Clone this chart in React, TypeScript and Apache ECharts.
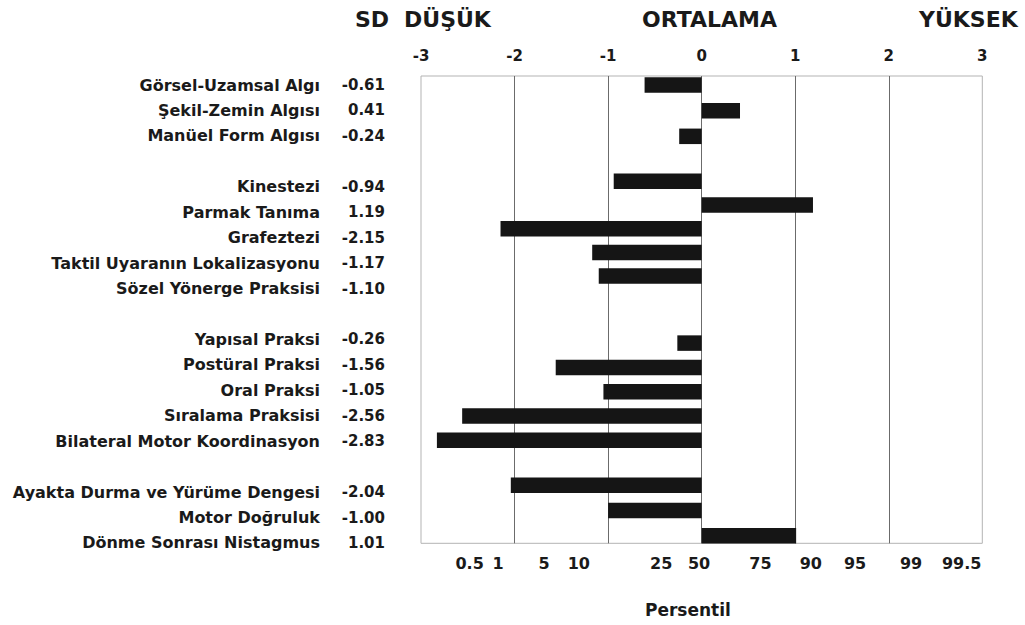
import React, { useEffect, useRef } from "react";
import * as echarts from "echarts";

const categories = [
  "Görsel-Uzamsal Algı",
  "Şekil-Zemin Algısı",
  "Manüel Form Algısı",
  "",
  "Kinestezi",
  "Parmak Tanıma",
  "Grafeztezi",
  "Taktil Uyaranın Lokalizasyonu",
  "Sözel Yönerge Praksisi",
  "",
  "Yapısal Praksi",
  "Postüral Praksi",
  "Oral Praksi",
  "Sıralama Praksisi",
  "Bilateral Motor Koordinasyon",
  "",
  "Ayakta Durma ve Yürüme Dengesi",
  "Motor Doğruluk",
  "Dönme Sonrası Nistagmus",
];

const sdValues: (number | null)[] = [
  -0.61, 0.41, -0.24, null, -0.94, 1.19, -2.15, -1.17, -1.1, null, -0.26,
  -1.56, -1.05, -2.56, -2.83, null, -2.04, -1.0, 1.01,
];

const sdTicks = [-3, -2, -1, 0, 1, 2, 3];
const innerLines = [-2, -1, 0, 1, 2];

const percentileLabels = ["0.5", "1", "5", "10", "25", "50", "75", "90", "95", "99", "99.5"];
const percentilePositions = [-2.48, -2.175, -1.685, -1.313, -0.433, -0.028, 0.628, 1.167, 1.64, 2.238, 2.78];

const FONT = "'DejaVu Sans'";
const INK = "#1a1a1a";

// group bars by blank separators (layout only)
function splitGroups() {
  const groups: { names: string[]; values: number[] }[] = [];
  let cur = { names: [] as string[], values: [] as number[] };
  categories.forEach((c, i) => {
    if (sdValues[i] == null) {
      if (cur.names.length) groups.push(cur);
      cur = { names: [], values: [] };
    } else {
      cur.names.push(c);
      cur.values.push(sdValues[i] as number);
    }
  });
  if (cur.names.length) groups.push(cur);
  return groups;
}

// vertical layout of each bar block: [top, row height]
const groupLayout = [
  [72.2, 25.65],
  [169.45, 23.7],
  [330.95, 24.3],
  [472.7, 25.25],
];

export default function App() {
  const ref = useRef<HTMLDivElement>(null);

  useEffect(() => {
    if (!ref.current) return;
    const chart = echarts.init(ref.current, null, { renderer: "svg" });
    const rowIdx = categories.map((_, i) => String(i));
    const groups = splitGroups();

    const plotLeft = 421;
    const plotWidth = 561.3;

    const grids: any[] = [
      {
        left: plotLeft,
        width: plotWidth,
        top: 76,
        height: 467.3,
        show: true,
        borderColor: "#b3b3b3",
        borderWidth: 1,
        backgroundColor: "transparent",
      },
      { left: 393, width: 10, top: 72.3, height: 483.4 },
    ];
    const xAxes: any[] = [
      {
        gridIndex: 0,
        type: "value",
        position: "top",
        min: sdTicks[0],
        max: sdTicks[sdTicks.length - 1],
        interval: 1,
        axisLine: { show: false },
        axisTick: { show: false },
        splitLine: { show: false },
        axisLabel: {
          margin: 13,
          fontFamily: FONT,
          fontWeight: "bold",
          fontSize: 15,
          color: INK,
        },
      },
      {
        gridIndex: 0,
        type: "value",
        position: "bottom",
        min: -3,
        max: 3,
        axisLine: { show: false },
        axisTick: { show: false },
        splitLine: { show: false },
        axisLabel: {
          customValues: percentilePositions,
          margin: 12,
          fontFamily: FONT,
          fontWeight: "bold",
          fontSize: 16,
          color: INK,
          formatter: (v: number) => {
            let best = 0;
            percentilePositions.forEach((p, i) => {
              if (Math.abs(p - v) < Math.abs(percentilePositions[best] - v)) best = i;
            });
            return percentileLabels[best];
          },
        },
      },
      { gridIndex: 1, type: "value", show: false },
    ];
    const yAxes: any[] = [
      { gridIndex: 0, type: "value", min: 0, max: 1, show: false },
      {
        gridIndex: 1,
        type: "category",
        data: rowIdx,
        inverse: true,
        position: "left",
        offset: 0,
        axisLine: { show: false },
        axisTick: { show: false },
        splitLine: { show: false },
        axisLabel: {
          interval: 0,
          margin: 73,
          fontFamily: FONT,
          fontWeight: "bold",
          fontSize: 16,
          color: INK,
          formatter: (_v: string, i: number) => categories[i],
        },
      },
      {
        gridIndex: 1,
        type: "category",
        data: rowIdx,
        inverse: true,
        position: "left",
        offset: 0,
        axisLine: { show: false },
        axisTick: { show: false },
        splitLine: { show: false },
        axisLabel: {
          interval: 0,
          margin: 8,
          fontFamily: FONT,
          fontWeight: "bold",
          fontSize: 15,
          color: INK,
          formatter: (_v: string, i: number) =>
            sdValues[i] == null ? "" : (sdValues[i] as number).toFixed(2),
        },
      },
    ];
    const series: any[] = [
      {
        type: "line",
        xAxisIndex: 0,
        yAxisIndex: 0,
        data: [],
        z: 1,
        silent: true,
        markLine: {
          silent: true,
          symbol: ["none", "none"],
          label: { show: false },
          lineStyle: { color: "#6b6b6b", width: 1, type: "solid" },
          data: innerLines.map((v) => ({ xAxis: v })),
        },
      },
    ];

    groups.forEach((g, gi) => {
      const [top, row] = groupLayout[gi];
      const gridIndex = grids.length;
      grids.push({ left: plotLeft, width: plotWidth, top, height: row * g.names.length });
      const xi = xAxes.length;
      xAxes.push({ gridIndex, type: "value", min: -3, max: 3, show: false });
      const yi = yAxes.length;
      yAxes.push({ gridIndex, type: "category", data: g.names, inverse: true, show: false });
      series.push({
        type: "bar",
        xAxisIndex: xi,
        yAxisIndex: yi,
        data: g.values,
        barWidth: 15.5,
        z: 5,
        itemStyle: { color: "#151515" },
      });
    });

    const option: any = {
      animation: false,
      backgroundColor: "#ffffff",
      textStyle: { fontFamily: FONT },
      grid: grids,
      xAxis: xAxes,
      yAxis: yAxes,
      series,
      graphic: [
        { type: "text", left: 355, top: 8, style: { text: "SD", font: `bold 22px ${FONT}`, fill: INK } },
        { type: "text", left: 404, top: 8, style: { text: "DÜŞÜK", font: `bold 22px ${FONT}`, fill: INK } },
        { type: "text", left: 642, top: 8, style: { text: "ORTALAMA", font: `bold 22px ${FONT}`, fill: INK } },
        { type: "text", left: 919, top: 8, style: { text: "YÜKSEK", font: `bold 22px ${FONT}`, fill: INK } },
        { type: "text", left: 645, top: 601, style: { text: "Persentil", font: `bold 17px ${FONT}`, fill: INK } },
      ],
    };
    chart.setOption(option);
    return () => chart.dispose();
  }, []);

  return (
    <div
      ref={ref}
      style={{ position: "fixed", left: 0, top: 0, width: 1025, height: 625, background: "#fff" }}
    />
  );
}
